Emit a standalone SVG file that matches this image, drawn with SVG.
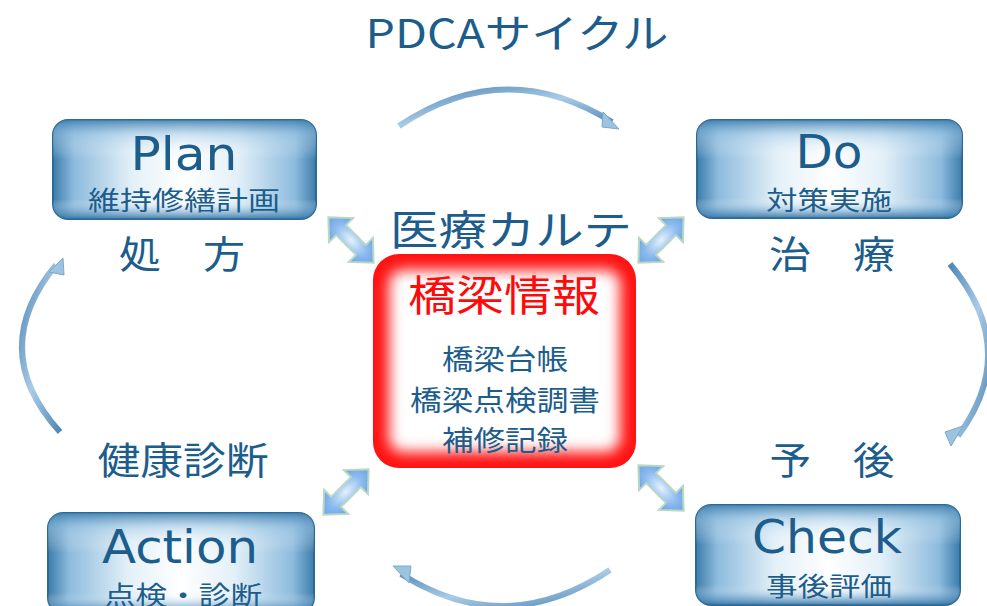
<svg xmlns="http://www.w3.org/2000/svg" width="987" height="606" viewBox="0 0 987 606">
<style>
.t{font-family:"Noto Sans CJK JP","Noto Sans",sans-serif;fill:#1c5d8c;text-anchor:middle}
.big{font-family:"DejaVu Sans","Noto Sans",sans-serif;fill:#1c5d8c;text-anchor:middle;font-size:46px}
.sub{font-size:26px}
.lbl{font-size:38px}
.box{stroke:#2c6a96;stroke-width:2}
.dbl{fill:url(#dg);stroke:#b9d9c4;stroke-width:2}
.arc{fill:none;stroke:url(#ag);stroke-width:6;stroke-linecap:butt}
.head{fill:#9cc3e0;stroke:#7ea9c8;stroke-width:1}
</style>
<defs>
<linearGradient id="hg" x1="0" y1="0" x2="1" y2="0">
<stop offset="0" stop-color="#3c7cab"/><stop offset="0.08" stop-color="#8dbbdd"/><stop offset="0.3" stop-color="#e3f0f8"/><stop offset="0.5" stop-color="#ffffff"/><stop offset="0.7" stop-color="#e3f0f8"/><stop offset="0.92" stop-color="#8dbbdd"/><stop offset="1" stop-color="#3c7cab"/>
</linearGradient>
<linearGradient id="vg" x1="0" y1="0" x2="0" y2="1">
<stop offset="0" stop-color="#3f7fae" stop-opacity="0.9"/><stop offset="0.15" stop-color="#9cc6e4" stop-opacity="0.5"/><stop offset="0.4" stop-color="#ffffff" stop-opacity="0"/><stop offset="0.8" stop-color="#ffffff" stop-opacity="0"/><stop offset="0.92" stop-color="#6a9fc8" stop-opacity="0.5"/><stop offset="1" stop-color="#2f6f9e" stop-opacity="0.9"/>
</linearGradient>
<radialGradient id="dg" cx="0.5" cy="0.5" r="0.6">
<stop offset="0" stop-color="#e6f1fd"/><stop offset="0.5" stop-color="#8fbcef"/><stop offset="1" stop-color="#5a96e0"/>
</radialGradient>
<linearGradient id="ag" x1="0" y1="0" x2="1" y2="1">
<stop offset="0" stop-color="#4f86b5"/><stop offset="0.5" stop-color="#a9cbe6"/><stop offset="1" stop-color="#4f86b5"/>
</linearGradient>
<filter id="blur" x="-20%" y="-20%" width="140%" height="140%"><feGaussianBlur stdDeviation="7"/></filter>
<polygon id="da" points="-32,0 -14,-17 -14,-7 14,-7 14,-17 32,0 14,17 14,7 -14,7 -14,17"/>
</defs>

<text class="t" x="517" y="48" style="font-size:40px" textLength="303" lengthAdjust="spacingAndGlyphs">PDCAサイクル</text>

<g id="connectors">
<path class="arc" d="M399,126 Q505,55 612,122"/>
<polygon class="head" points="603,112 619,129 602,127"/>
<path class="arc" d="M950,264 Q1022,350 958,436"/>
<polygon class="head" points="963,426 951,446 945,432"/>
<path class="arc" d="M610,570 Q505,640 401,574"/>
<polygon class="head" points="409,583 393,566 411,566"/>
<path class="arc" d="M60,432 Q-14,350 56,265"/>
<polygon class="head" points="49,272 63,258 64,275"/>
<use href="#da" class="dbl" transform="translate(351,240) rotate(45)"/>
<use href="#da" class="dbl" transform="translate(661,240) rotate(-45)"/>
<use href="#da" class="dbl" transform="translate(346,492) rotate(-45)"/>
<use href="#da" class="dbl" transform="translate(661,488) rotate(45)"/>
</g>

<g id="plan">
<rect class="box" x="53" y="120" width="263" height="99" rx="15" fill="url(#hg)"/>
<rect x="53" y="120" width="263" height="99" rx="15" fill="url(#vg)"/>
<text class="big" x="184" y="170" textLength="107" lengthAdjust="spacingAndGlyphs">Plan</text>
<text class="t sub" x="184" y="210" textLength="192" lengthAdjust="spacingAndGlyphs">維持修繕計画</text>
</g>

<g id="do">
<rect class="box" x="697" y="120" width="265" height="98" rx="15" fill="url(#hg)"/>
<rect x="697" y="120" width="265" height="98" rx="15" fill="url(#vg)"/>
<text class="big" x="829" y="168" textLength="67" lengthAdjust="spacingAndGlyphs">Do</text>
<text class="t sub" x="829" y="210" textLength="126" lengthAdjust="spacingAndGlyphs">対策実施</text>
</g>

<g id="action">
<rect class="box" x="48" y="513" width="266" height="100" rx="15" fill="url(#hg)"/>
<rect x="48" y="513" width="266" height="100" rx="15" fill="url(#vg)"/>
<text class="big" x="180" y="563" textLength="156" lengthAdjust="spacingAndGlyphs">Action</text>
<text class="t sub" x="183" y="605" textLength="158" lengthAdjust="spacingAndGlyphs">点検・診断</text>
</g>

<g id="check">
<rect class="box" x="696" y="505" width="264" height="100" rx="15" fill="url(#hg)"/>
<rect x="696" y="505" width="264" height="100" rx="15" fill="url(#vg)"/>
<text class="big" x="827" y="553" textLength="150" lengthAdjust="spacingAndGlyphs">Check</text>
<text class="t sub" x="829" y="596" textLength="126" lengthAdjust="spacingAndGlyphs">事後評価</text>
</g>

<g id="center">
<rect x="373" y="254" width="263" height="214" rx="26" fill="#ff1212"/>
<rect x="389" y="270" width="231" height="182" rx="14" fill="#ffffff" filter="url(#blur)"/>
<text class="t" x="504" y="311" style="font-size:42px;fill:#ff0a0a" textLength="192" lengthAdjust="spacingAndGlyphs">橋梁情報</text>
<text class="t" x="505" y="370" style="font-size:28px" textLength="126" lengthAdjust="spacingAndGlyphs">橋梁台帳</text>
<text class="t" x="505" y="411" style="font-size:28px" textLength="190" lengthAdjust="spacingAndGlyphs">橋梁点検調書</text>
<text class="t" x="505" y="451" style="font-size:28px" textLength="126" lengthAdjust="spacingAndGlyphs">補修記録</text>
</g>

<g id="labels">
<text class="t" x="511" y="245" style="font-size:41px" textLength="242" lengthAdjust="spacingAndGlyphs">医療カルテ</text>
<text class="t lbl" x="182" y="268" textLength="126" lengthAdjust="spacingAndGlyphs">処　方</text>
<text class="t lbl" x="832" y="268" textLength="126" lengthAdjust="spacingAndGlyphs">治　療</text>
<text class="t lbl" x="183" y="474" textLength="171" lengthAdjust="spacingAndGlyphs">健康診断</text>
<text class="t lbl" x="832" y="474" textLength="125" lengthAdjust="spacingAndGlyphs">予　後</text>
</g>
</svg>
